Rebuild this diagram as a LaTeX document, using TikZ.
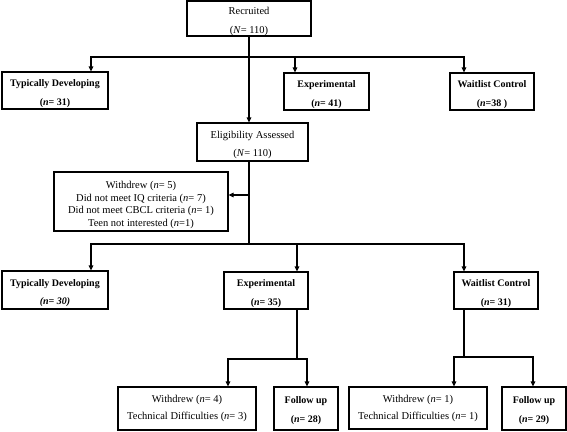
\documentclass[tikz,border=0pt]{standalone}
\usepackage{fontspec}
\setmainfont{Liberation Serif}
\usetikzlibrary{arrows.meta, positioning}
\newcommand{\lift}[1]{\rule{0pt}{#1}}

\begin{document}
\begin{tikzpicture}[x=1pt,y=-1pt,
  >={Triangle[length=5pt,width=4.5pt]},
  box/.style={draw, line width=1.1pt, align=center, inner sep=0pt,
    font=\fontsize{10.5}{18.5}\selectfont},
  group/.style={box, font=\bfseries\fontsize{10}{18.5}\selectfont},
  flow/.style={line width=1.1pt}]
  \useasboundingbox (0,0) rectangle (567,431);

  \node[box, minimum width=124pt, minimum height=35pt]   (rec)  at (249,18.5)   {\lift{13pt}Recruited\\(\textit{N}= 110)};
  \node[group, minimum width=106pt, minimum height=37pt] (td1)  at (55,90.5)    {\lift{13pt}Typically Developing\\(\textit{n}= 31)};
  \node[group, minimum width=85pt, minimum height=37pt]  (exp1) at (326.5,91.5) {\lift{13pt}Experimental\\(\textit{n}= 41)};
  \node[group, minimum width=84pt, minimum height=37pt]  (wl1)  at (492,91.5)   {\lift{13pt}Waitlist Control\\(\textit{n}=38 )};
  \node[box, minimum width=111pt, minimum height=38pt]   (elig) at (252.5,142)  {\lift{13pt}Eligibility Assessed\\(\textit{N}= 110)};
  \node[box, minimum width=174pt, minimum height=59pt, font=\fontsize{10.5}{12.7}\selectfont] (excl) at (141,201.5)
    {\lift{14pt}Withdrew (\textit{n}= 5)\\Did not meet IQ criteria (\textit{n}= 7)\\Did not meet CBCL criteria (\textit{n}= 1)\\Teen not interested (\textit{n}=1)};
  \node[group, minimum width=106pt, minimum height=38pt] (td2)  at (55,290)     {\lift{13pt}Typically Developing\\\textit{(n= 30)}};
  \node[group, minimum width=84pt, minimum height=37pt]  (exp2) at (266,290.5)  {\lift{13pt}Experimental\\(\textit{n}= 35)};
  \node[group, minimum width=84pt, minimum height=37pt]  (wl2)  at (496,290.5)  {\lift{13pt}Waitlist Control\\(\textit{n}= 31)};
  \node[box, minimum width=138pt, minimum height=43pt, font=\fontsize{10.5}{17}\selectfont] (wd4) at (187,408.5) {Withdrew (\textit{n}= 4)\\Technical Difficulties (\textit{n}= 3)};
  \node[group, minimum width=64pt, minimum height=43pt]  (fu28) at (306,408.5)  {\lift{11pt}Follow up\\(\textit{n}= 28)};
  \node[box, minimum width=138pt, minimum height=42pt, font=\fontsize{10.5}{17}\selectfont] (wd1) at (418,408) {Withdrew (\textit{n}= 1)\\Technical Difficulties (\textit{n}= 1)};
  \node[group, minimum width=64pt, minimum height=43pt]  (fu29) at (534,408.5)  {\lift{11pt}Follow up\\(\textit{n}= 29)};

  % branch points
  \coordinate (top) at (249,57);
  \coordinate (mid) at (249,244);
  \coordinate (ebr) at (297,359);
  \coordinate (wbr) at (464,357);
  \coordinate (exclin) at ([yshift=6.5pt]excl.east);

  \draw[flow,->] (rec.south -| top) -- (elig.north -| top);
  \draw[flow,->] (top) -| ([xshift=36pt]td1.north);
  \draw[flow,->] (top) -| ([xshift=-31.5pt]exp1.north);
  \draw[flow,->] (top) -| ([xshift=-28pt]wl1.north);

  \draw[flow] (elig.south -| top) -- (mid);
  \draw[flow,->] (exclin -| top) -- (exclin);
  \draw[flow,->] (mid) -| ([xshift=36pt]td2.north);
  \draw[flow,->] (mid) -| ([xshift=31pt]exp2.north);
  \draw[flow,->] (mid) -| ([xshift=-32pt]wl2.north);

  \draw[flow] ([xshift=31pt]exp2.south) -- (ebr);
  \draw[flow,->] (ebr) -| ([xshift=41pt]wd4.north);
  \draw[flow,->] (ebr) -| ([xshift=1pt]fu28.north);

  \draw[flow] ([xshift=-32pt]wl2.south) -- (wbr);
  \draw[flow,->] (wbr) -| ([xshift=36pt]wd1.north);
  \draw[flow,->] (wbr) -| ([xshift=-1pt]fu29.north);
\end{tikzpicture}
\end{document}
